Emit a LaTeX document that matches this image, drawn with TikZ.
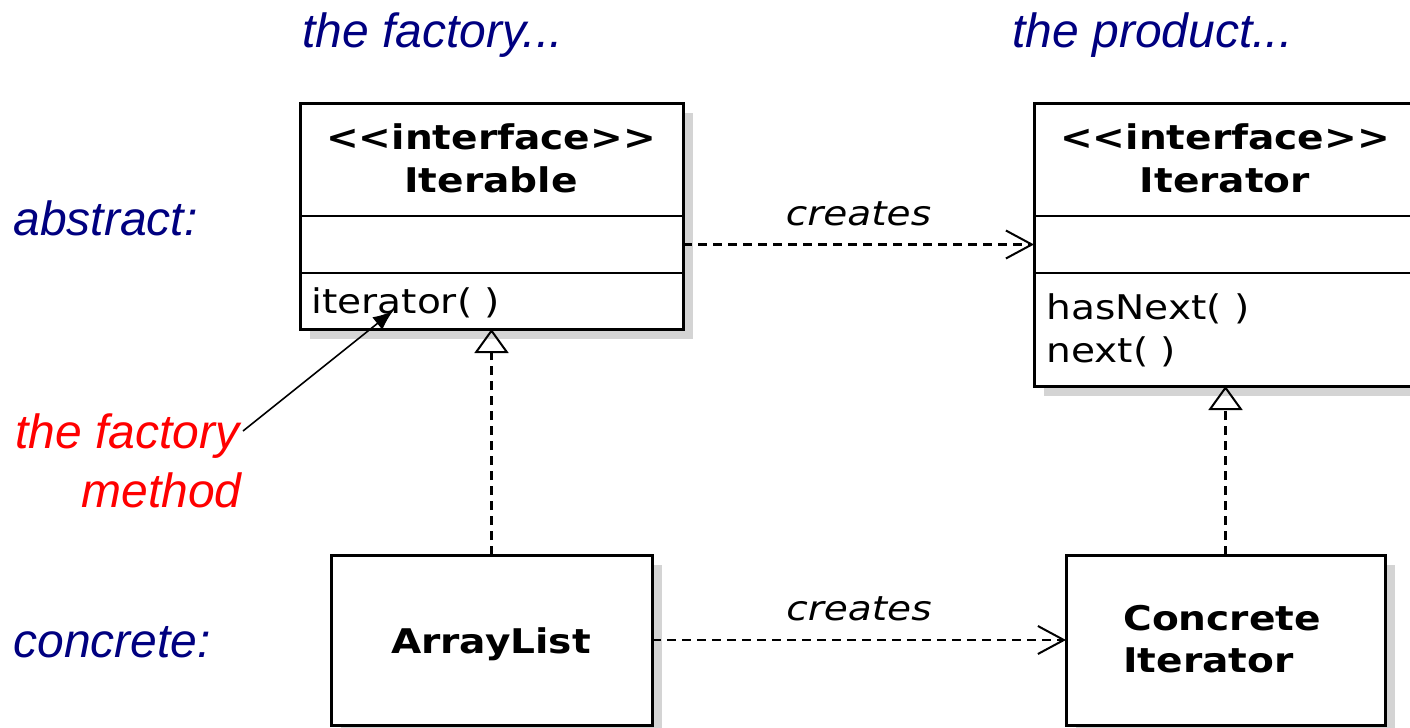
\documentclass[tikz,border=0pt]{standalone}
\usepackage{fontspec}
\usetikzlibrary{arrows.meta,fit,backgrounds}
\newfontfamily\umlfont[FakeStretch=1.15]{DejaVu Sans}
\newfontfamily\labelfont{Liberation Sans}
\definecolor{shadowgray}{RGB}{212,212,212}
\definecolor{labelnavy}{RGB}{0,0,128}
\tikzset{
  umlframe/.style={draw, line width=1.5pt, fill=white, inner sep=0pt, outer sep=0pt},
  compart/.style={inner sep=0pt, outer sep=0pt},
  divider/.style={line width=1pt},
  headtext/.style={inner sep=0pt, anchor=base, font=\umlfont\bfseries\fontsize{17pt}{21pt}\selectfont},
  optext/.style={inner sep=0pt, anchor=base west, font=\umlfont\fontsize{17pt}{21pt}\selectfont},
  createstext/.style={inner sep=0pt, anchor=base, font=\umlfont\itshape\fontsize{17pt}{21pt}\selectfont},
  sidelabel/.style={inner sep=0pt, anchor=base west, text=labelnavy, font=\labelfont\itshape\fontsize{24pt}{29pt}\selectfont},
  redlabel/.style={inner sep=0pt, anchor=base east, text=red, font=\labelfont\itshape\fontsize{24pt}{29pt}\selectfont},
  dashedline/.style={line width=1.2pt, dash pattern=on 4.5pt off 3pt},
  createsarrow/.style={dashedline, -{Straight Barb[length=13pt, width=14pt, line width=1pt]}},
  realizes/.style={dashedline, -{Triangle[open, length=12pt, width=17pt, line width=1pt]}},
  pointer/.style={line width=0.8pt, -{Latex[length=10pt, width=8pt]}},
}
\begin{document}
\begin{tikzpicture}[x=0.5pt, y=-0.5pt]
\useasboundingbox (0,0) rectangle (1410,728);
\clip (0,0) rectangle (1410,728);

% ---- Iterable ----
\node[umlframe, fit={(300,103)(683,329)}] (iterable) {};
\node[compart, fit={(300,216)(683,273)}] (iterableattr) {};
\node[compart, fit={(300,273)(683,329)}] (iterableops) {};
\draw[divider] (iterableattr.north west) -- (iterableattr.north east);
\draw[divider] (iterableops.north west) -- (iterableops.north east);
\node[headtext] (iterablestereo) at (491,149) {<\kern0pt<interface>\kern0pt>};
\node[headtext] (iterablename) at (491,192) {Iterable};
\node[optext] (iterableop) at (311,313) {iterator( )};

% ---- Iterator ----
\node[umlframe, fit={(1034,103)(1416,386)}] (iterator) {};
\node[compart, fit={(1034,216)(1416,273)}] (iteratorattr) {};
\node[compart, fit={(1034,273)(1416,386)}] (iteratorops) {};
\draw[divider] (iteratorattr.north west) -- (iteratorattr.north east);
\draw[divider] (iteratorops.north west) -- (iteratorops.north east);
\node[headtext] (iteratorstereo) at (1225,149) {<\kern0pt<interface>\kern0pt>};
\node[headtext] (iteratorname) at (1225,192) {Iterator};
\node[optext] (iteratorop1) at (1046,319) {hasNext( )};
\node[optext] (iteratorop2) at (1046,362) {next( )};

% ---- ArrayList ----
\node[umlframe, fit={(331,555)(652,725)}] (arraylist) {};
\node[headtext] (arraylistname) at (491,653) {ArrayList};

% ---- Concrete Iterator ----
\node[umlframe, fit={(1066,555)(1385,725)}] (concrete) {};
\node[headtext, anchor=base west] (concretename1) at (1123,630) {Concrete};
\node[headtext, anchor=base west] (concretename2) at (1123,672) {Iterator};

% ---- shadows ----
\begin{scope}[on background layer]
  \foreach \b in {iterable, iterator, arraylist, concrete}{
    \fill[shadowgray] ([shift={(10,10)}]\b.north west) rectangle ([shift={(10,10)}]\b.south east);
  }
\end{scope}

% ---- connectors ----
\draw[createsarrow] (iterableattr.east) -- node[createstext, midway, yshift=9.5pt] (creates1) {creates} (iteratorattr.west);
\draw[createsarrow] (arraylist.east) -- node[createstext, midway, yshift=10pt] (creates2) {creates} (concrete.west);
\draw[realizes] (arraylist.north) -- (iterable.south);
\draw[realizes] (concrete.north) -- (concrete.north |- iterator.south);

% ---- labels ----
\node[sidelabel] (factorylabel) at (302,47) {the factory...};
\node[sidelabel] (productlabel) at (1012,47) {the product...};
\node[sidelabel] (abstractlabel) at (13,235) {abstract:};
\node[sidelabel] (concretelabel) at (13,657) {concrete:};
\node[redlabel] (fmlabel1) at (240,448) {the factory};
\node[redlabel] (fmlabel2) at (242,507) {method};
\coordinate (fmtail) at (243,431);
\coordinate (fmtip) at (393,311);
\draw[pointer] (fmtail) -- (fmtip);
\end{tikzpicture}
\end{document}
